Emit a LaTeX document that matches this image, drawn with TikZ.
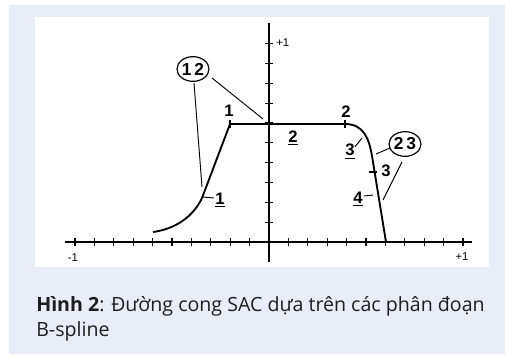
\documentclass[tikz,border=0pt]{standalone}
\usepackage{fontspec}
\setmainfont{Open Sans}
\newfontfamily\plotfont{Liberation Sans}
\usetikzlibrary{shapes.geometric}
\definecolor{panel}{HTML}{E8EDF7}
\definecolor{captxt}{HTML}{1E1E1E}
\tikzset{
  axisline/.style={line width=1.2pt, black},
  tickline/.style={line width=0.8pt, black},
  curveline/.style={line width=1.4pt, black},
  leader/.style={line width=0.7pt, black},
  numlbl/.style={font=\plotfont\fontsize{12.5}{14}\selectfont\bfseries, inner sep=0pt},
  ulbl/.style={numlbl, text depth=0pt},
  smalllbl/.style={font=\plotfont\fontsize{8.5}{10}\selectfont, inner sep=0pt},
  circlbl/.style={draw, ellipse, line width=0.9pt, minimum width=24pt, minimum height=18.5pt, inner sep=0pt, font=\plotfont\fontsize{13}{14}\selectfont\bfseries},
  captext/.style={anchor=base west, inner sep=0pt, text=captxt, font=\fontsize{14.7}{18}\selectfont},
}
\begin{document}
\begin{tikzpicture}[x=0.75pt,y=-0.75pt]
\useasboundingbox (0,0) rectangle (505,355);
\fill[white] (0,0) rectangle (505,355);
\fill[panel] (9,5) rectangle (505,354);
\fill[white] (35,17) rectangle (489,267);
% axes
\coordinate (xl) at (65,242);
\coordinate (xr) at (472,242);
\coordinate (yt) at (269,23);
\coordinate (yb) at (269,262);
\draw[axisline] (xl) -- (xr);
\draw[axisline] (yt) -- (yb);
\foreach \i in {-10,...,10}{
  \ifnum\i=0\else
  \draw[tickline] ({269+19.4*\i},238) -- ({269+19.4*\i},246);
  \fi
}
\foreach \j in {1,...,10}{
  \draw[tickline] (265,{242-19.85*\j}) -- (273,{242-19.85*\j});
}
\node[smalllbl, anchor=west] (yp) at (276,43) {+1};
\node[smalllbl] (xm) at (73,258) {-1};
\node[smalllbl] (xp) at (462,257) {+1};
% curve
\coordinate (c0) at (153,232);
\coordinate (c1) at (202,198);
\coordinate (c2) at (230,124);
\coordinate (c3) at (345,124);
\coordinate (c4) at (372,156);
\coordinate (c5) at (386,242);
\draw[curveline] (c0) .. controls (175,229) and (193,217) .. (c1) -- (c2) -- (c3)
  .. controls (364,124) and (369,139) .. (c4) -- (c5);
\draw[tickline] (230,120) -- (230,128);
\draw[tickline] (345,120) -- (345,128);
\draw[tickline] (369,172) -- (377,172);
% labels
\node[numlbl] (n1) at (229,111) {1};
\node[numlbl] (n2) at (346,112) {2};
\node[numlbl] (n3) at (386,171) {3};
\node[ulbl] (u2) at (293,137) {\underline{2}};
\node[ulbl] (u3) at (350,150) {\underline{3}};
\node[ulbl] (u4) at (358,198) {\underline{4}};
\node[ulbl] (u1) at (220,199) {\underline{1}};
\coordinate (u3e) at (362,138);
\coordinate (u4e) at (373,195);
\coordinate (u1e) at (203,197);
\draw[leader] (u3.north east) ++(0,3) -- (u3e);
\draw[leader] (u4.east) ++(1,-2) -- (u4e);
\draw[leader] (u1.west) ++(-1,-1) -- (u1e);
% circled labels
\node[circlbl] (e12) at (193,69) {1\,2};
\node[circlbl] (e23) at (405,144) {2\,3};
\coordinate (a1) at (202,187);
\coordinate (a2) at (263,119);
\coordinate (b1) at (376,154);
\coordinate (b2) at (383,200);
\draw[leader] (194,83) -- (a1);
\draw[leader] (212,78) -- (a2);
\draw[leader] (390,148) -- (b1);
\draw[leader] (402,162) -- (b2);
% caption
\node[captext] (cap1) at (36,311.5) {\textbf{Hình 2}: Đường cong SAC dựa trên các phân đoạn};
\node[captext] (cap2) at (36,336.5) {B-spline};
\end{tikzpicture}
\end{document}
